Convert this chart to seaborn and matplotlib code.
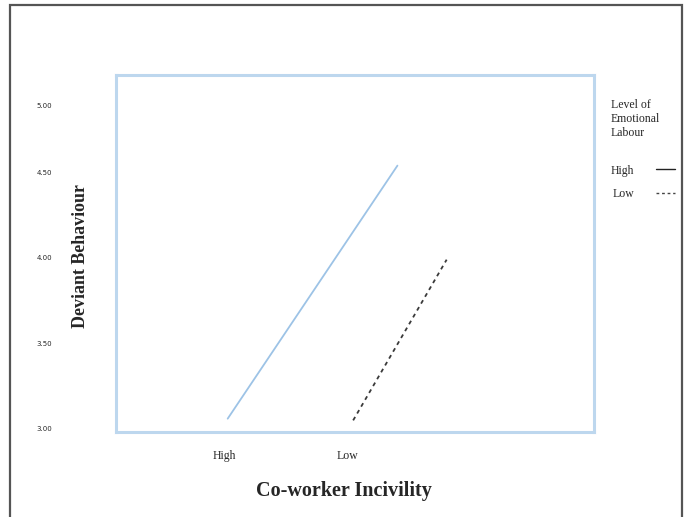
import pandas as pd
import seaborn as sns
import matplotlib.pyplot as plt
from matplotlib.lines import Line2D
from matplotlib.patches import Rectangle

# data
series = ["High", "High", "Low", "Low"]
incivility_pos = [0.03, 1.41, 1.05, 1.81]
deviant = [3.06, 4.54, 3.05, 3.99]
x_ticks = [0, 1]
x_labels = ["High", "Low"]
y_ticks = [3.0, 3.5, 4.0, 4.5, 4.89]
y_labels = ["3.00", "3.50", "4.00", "4.50", "5.00"]


def plot_interaction():
    sns.set_style("white")
    fig = plt.figure(figsize=(6.87, 5.17), dpi=100)
    ax = fig.add_axes([116 / 687, 85 / 517, 478 / 687, 357 / 517])

    df = pd.DataFrame({"level": series, "x": incivility_pos, "y": deviant})
    sns.lineplot(data=df, x="x", y="y", hue="level", style="level",
                 palette={"High": "#9dc3e6", "Low": "#3a3a3a"},
                 dashes={"High": "", "Low": (2.2, 2.2)},
                 linewidth=1.3, legend=False, ax=ax)

    ax.set_xlim(-0.878, 3.008)
    ax.set_ylim(2.982, 5.07)
    for s in ax.spines.values():
        s.set_color("#bdd7ee")
        s.set_linewidth(2.2)

    ax.set_xticks(x_ticks)
    ax.set_xticklabels(x_labels, fontfamily="Liberation Serif", fontsize=8.5)
    ax.tick_params(axis="x", length=0, pad=13)
    ax.set_yticks(y_ticks)
    ax.set_yticklabels(y_labels, fontfamily="DejaVu Sans", fontsize=5)
    ax.tick_params(axis="y", length=0, pad=46)

    ax.set_xlabel("Co-worker Incivility", fontfamily="Liberation Serif",
                  fontweight="bold", fontsize=14.5)
    ax.xaxis.set_label_coords(0.477, -0.137)
    ax.set_ylabel("Deviant Behaviour", fontfamily="Liberation Serif",
                  fontweight="bold", fontsize=12.9)
    ax.yaxis.set_label_coords(-0.056, 0.493)

    handles = [Line2D([], [], color="#222222", lw=1.0),
               Line2D([], [], color="#444444", lw=1.0, dashes=(2, 2))]
    leg = ax.legend(handles, ["High", "Low"], title="Level of\nEmotional\nLabour\n",
                    loc="upper left", bbox_to_anchor=(1.025, 0.945), frameon=False,
                    markerfirst=False, handlelength=1.65, handletextpad=1.85,
                    labelspacing=1.0, borderaxespad=0,
                    prop={"family": "Liberation Serif", "size": 8.5})
    leg.get_title().set_fontfamily("Liberation Serif")
    leg.get_title().set_fontsize(8.5)
    leg._legend_box.align = "left"

    fig.patches.append(Rectangle((10 / 687, -0.1), 672 / 687, 1.1 - 5 / 517,
                                 transform=fig.transFigure, fill=False,
                                 edgecolor="#555555", lw=1.6))
    fig.savefig("out.png", dpi=100)


if __name__ == '__main__':
    plot_interaction()
